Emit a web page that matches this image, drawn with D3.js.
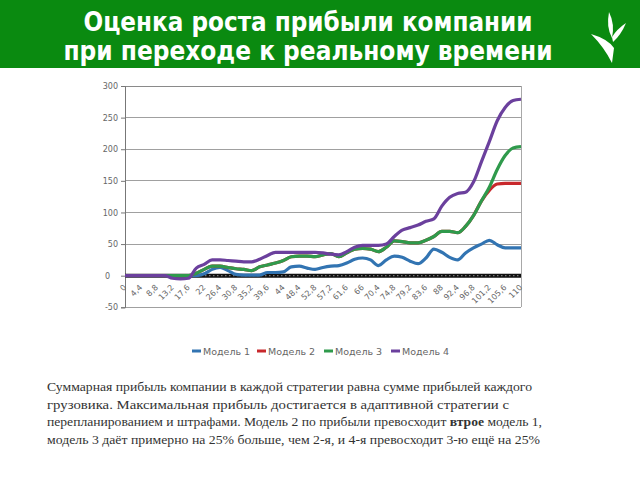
<!DOCTYPE html>
<html><head><meta charset="utf-8">
<script src="https://cdn.jsdelivr.net/npm/d3@7"></script>
<style>html,body{margin:0;padding:0;background:#fff;}svg{display:block;}</style>
</head><body>
<svg id="c" width="640" height="480"></svg>
<script>
const titleLines = ["Оценка роста прибыли  компании", "при переходе к реальному времени"];
const xValues = [0,2.2,4.4,6.6,8.8,11,13.2,15.4,17.6,19.8,22,24.2,26.4,28.6,30.8,33,35.2,37.4,39.6,41.8,44,46.2,48.4,50.6,52.8,55,57.2,59.4,61.6,63.8,66,68.2,70.4,72.6,74.8,77,79.2,81.4,83.6,85.8,88,90.2,92.4,94.6,96.8,99,101.2,103.4,105.6,107.8,110];
const xTickLabels = ["0","4,4","8,8","13,2","17,6","22","26,4","30,8","35,2","39,6","44","48,4","52,8","57,2","61,6","66","70,4","74,8","79,2","83,6","88","92,4","96,8","101,2","105,6","110"];
const xTickValues = [0,4.4,8.8,13.2,17.6,22,26.4,30.8,35.2,39.6,44,48.4,52.8,57.2,61.6,66,70.4,74.8,79.2,83.6,88,92.4,96.8,101.2,105.6,110];
const yTickValues = [-50,0,50,100,150,200,250,300];
const seriesNames = ["Модель 1","Модель 2","Модель 3","Модель 4"];
const model1 = [0,0,0,0,0,0,0,0,0,0,3,10,13,8,2,1,1,1,5,5,6,14,15,12,10,13,15,16,20,26,28,25,16,25,31,29,23,19,28,42,37,29,25,36,44,50,56,49,44,44,44];
const model3 = [0,0,0,0,0,0,0,0,0,4,10,15,15,13,11,10,8,14,17,20,24,30,31,31,30,33,35,30,36,42,43,42,38,45,55,54,52,52,56,62,70,70,68,78,95,118,140,168,190,202,204];
const model2 = [0,0,0,0,0,0,0,0,0,4,10,15,15,13,11,10,8,14,17,20,24,30,31,31,30,33,35,30,36,42,43,42,38,45,55,54,52,52,56,62,70,70,68,78,95,118,135,145,146,146,146];
const model4 = [0,0,0,0,0,0,-4,-5,-4,12,18,25,25,24,23,22,22,26,32,37,37,37,37,37,37,36,34,33,38,45,48,48,48,50,62,72,76,80,86,90,110,124,130,132,148,180,212,245,266,277,279];
const zeroLine = xValues.map(() => 0);
const seriesColors = ["#3274b2","#c8282c","#2f9a4c","#6b409d"];
const paragraph = [
  [{t:"Суммарная прибыль компании в каждой стратегии равна сумме прибылей каждого"}],
  [{t:"грузовика. Максимальная прибыль достигается в адаптивной стратегии с"}],
  [{t:"перепланированием и штрафами. Модель 2 по прибыли превосходит "},{t:"втрое",b:true},{t:" модель 1,"}],
  [{t:"модель 3 даёт примерно на 25% больше, чем 2-я, и 4-я превосходит 3-ю ещё на 25%"}]
];
const paraWidths = [485, 462, 495, 493];

const svg = d3.select("#c");
// header
svg.append("rect").attr("x",0).attr("y",0).attr("width",640).attr("height",68).attr("fill","#0a8a10");
const tw = [449, 489];
titleLines.forEach((s,i)=>{
  svg.append("text").attr("x",308).attr("y",[31,60][i]).attr("text-anchor","middle")
    .attr("font-family","'DejaVu Sans Condensed','DejaVu Sans',sans-serif").attr("font-weight","bold")
    .attr("font-size",27).attr("fill","#fff")
    .attr("textLength",tw[i]).attr("lengthAdjust","spacingAndGlyphs").text(s);
});
// logo
const logo = svg.append("g").attr("fill","#fff");
logo.append("path").attr("d","M609,12 Q615,24 612,38 Q606,27 609,12 Z");
logo.append("path").attr("d","M626,23 Q621,35 613,42 L612,37 Q617,29 626,23 Z");
logo.append("path").attr("d","M591,34 Q608,39 614,48 L612,63 Q604,47 591,34 Z");

// chart
const x = d3.scaleLinear().domain([0,110]).range([125,521]);
const y = d3.scaleLinear().domain([-50,300]).range([307.3,86]);
const g = svg.append("g");
// gridlines
g.selectAll("line.grid").data(yTickValues.filter(v=>v!==0)).join("line")
  .attr("x1",125).attr("x2",521).attr("y1",d=>y(d)).attr("y2",d=>y(d))
  .attr("stroke",d=>d===300?"#8a8a8a":"#a0a0a0").attr("stroke-width",1).attr("shape-rendering","crispEdges");
// right border
g.append("line").attr("x1",521).attr("x2",521).attr("y1",y(300)).attr("y2",y(-50))
  .attr("stroke","#a8a8a8").attr("shape-rendering","crispEdges");
// y axis
const yAxis = d3.axisLeft(y).tickValues(yTickValues).tickSize(4).tickFormat(d=>String(d));
const ya = g.append("g").attr("transform","translate(125,0)").call(yAxis);
ya.select(".domain").attr("stroke","#777");
ya.selectAll(".tick line").attr("stroke","#777");
ya.selectAll(".tick text").attr("font-family","'DejaVu Sans',sans-serif").attr("font-size",8).attr("fill","#666")
  .attr("dx",d=>d===0?-8:0);
// zero line
const line = d3.line().x((d,i)=>x(xValues[i])).y(d=>y(d));
g.append("path").datum(zeroLine).attr("d",line).attr("fill","none").attr("stroke","#111").attr("stroke-width",4);
g.append("path").datum(zeroLine).attr("d",line).attr("fill","none").attr("stroke","#777").attr("stroke-width",1.2).attr("stroke-dasharray","1.5,2.5");
// x tick labels (clipped at the right frame)
svg.append("clipPath").attr("id","clipR").append("rect").attr("x",0).attr("y",0).attr("width",524).attr("height",480);
const xwrap = g.append("g").attr("clip-path","url(#clipR)");
const xa = xwrap.append("g").attr("transform",`translate(0,${y(0)+8})`)
  .call(d3.axisBottom(x).tickValues(xTickValues).tickSize(0).tickFormat((d,i)=>xTickLabels[i]));
xa.select(".domain").remove();
xa.selectAll(".tick text").attr("font-family","'DejaVu Sans',sans-serif").attr("font-size",8).attr("fill","#666")
  .attr("text-anchor","end").attr("dy",0).attr("y",4).attr("x",-2).attr("transform","rotate(-45)");
// series
const seriesData = [model1, model2, model3, model4];
seriesData.forEach((s,i)=>{
  g.append("path").datum(s).attr("d",line.curve(d3.curveMonotoneX)).attr("fill","none")
    .attr("stroke",seriesColors[i]).attr("stroke-width",3.2).attr("stroke-linejoin","round");
});
// legend
const legX = [192, 257, 324, 391];
seriesNames.forEach((n,i)=>{
  svg.append("rect").attr("x",legX[i]).attr("y",349.5).attr("width",9).attr("height",3).attr("fill",seriesColors[i]);
  svg.append("text").attr("x",legX[i]+11).attr("y",354.5).attr("font-family","'DejaVu Sans',sans-serif")
    .attr("font-size",9.5).attr("fill","#666").text(n);
});
// paragraph
paragraph.forEach((ln,i)=>{
  const t = svg.append("text").attr("x",47).attr("y",391+i*17.6).attr("font-family","'Liberation Serif','Times New Roman',serif")
    .attr("font-size",13.5).attr("fill","#333").attr("textLength",paraWidths[i]).attr("lengthAdjust","spacingAndGlyphs");
  ln.forEach(p=>{ t.append("tspan").attr("font-weight",p.b?"bold":null).text(p.t); });
});
</script>
</body></html>
